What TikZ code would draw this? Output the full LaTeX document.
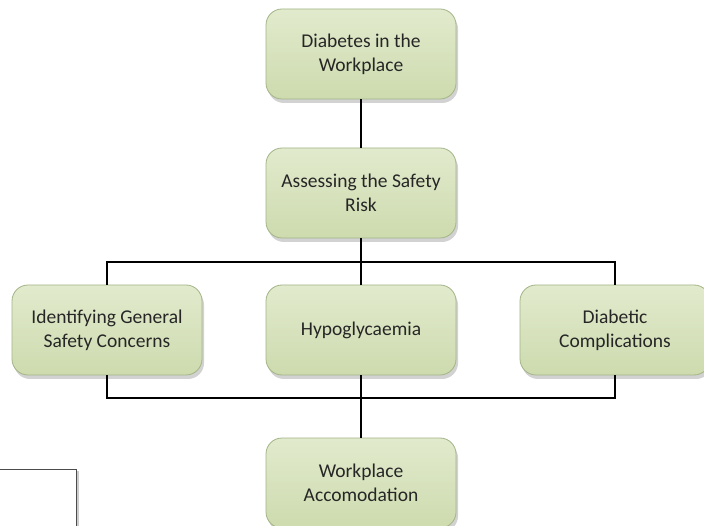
\documentclass[tikz,border=0pt]{standalone}
\usepackage{fontspec}
\setmainfont{Carlito}
\usetikzlibrary{shadows}
\definecolor{boxtop}{HTML}{E2EACD}
\definecolor{boxbot}{HTML}{CDDBAE}
\definecolor{boxline}{HTML}{A3B587}
\tikzset{
  gbox/.style={draw=boxline, line width=0.8pt, rounded corners=16pt,
    top color=boxtop, bottom color=boxbot, minimum width=190pt, minimum height=90pt,
    align=center, font=\fontsize{19.5}{24}\selectfont, text=black!85,
    drop shadow={shadow xshift=2pt, shadow yshift=-4pt, opacity=0.35}},
  conn/.style={line width=1.2pt, black}
}
\begin{document}
\begin{tikzpicture}[x=1pt,y=-1pt]
\useasboundingbox (0,0) rectangle (704,526);
\fill[white] (0,0) rectangle (704,526);
\node[gbox] (top) at (361,54) {Diabetes in the\\Workplace};
\node[gbox] (risk) at (361,193) {Assessing the Safety\\Risk};
\node[gbox] (gen) at (107,330) {Identifying General\\Safety Concerns};
\node[gbox] (hypo) at (361,330) {Hypoglycaemia};
\node[gbox] (comp) at (615,330) {Diabetic\\Complications};
\node[gbox] (acc) at (361,483) {Workplace\\Accomodation};
\coordinate (hl) at (107,262);
\coordinate (hr) at (615,262);
\coordinate (hm) at (361,262);
\coordinate (bl) at (107,398);
\coordinate (br) at (615,398);
\coordinate (bm) at (361,398);
\draw[conn] (top) -- (risk);
\draw[conn] (risk) -- (hm);
\draw[conn] (gen.north) -- (hl) -- (hr) -- (comp.north);
\draw[conn] (hm) -- (hypo);
\draw[conn] (gen.south) -- (bl) -- (br) -- (comp.south);
\draw[conn] (hypo) -- (bm) -- (acc);
\node[draw=black!70, fill=white, line width=0.6pt, minimum width=80pt, minimum height=70pt,
  drop shadow={shadow xshift=3pt, shadow yshift=-2pt, opacity=0.4}] (sidebox) at (36,504) {};
\end{tikzpicture}
\end{document}
